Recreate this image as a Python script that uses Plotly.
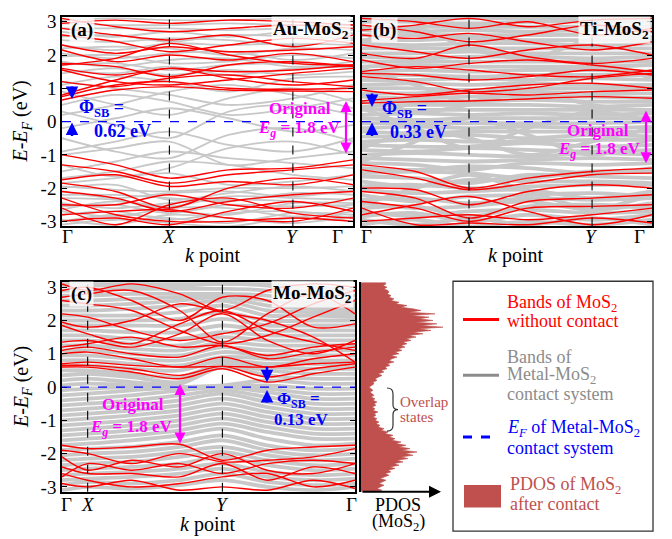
import plotly.graph_objects as go

W, H = 672, 539
SERIF = "Liberation Serif"

# ---------------- k-path ----------------
K_AB = [0, 0.5, 1.0, 1.55, 2.15, 2.71]
HS_AB = [0, 1.0, 2.15, 2.71]
K_C = [0, 0.24, 0.65, 1.1, 1.5, 1.92, 2.35, 2.74]
HS_C = [0, 0.24, 1.5, 2.74]
HS_LABELS = ["Γ", "<i>X</i>", "<i>Y</i>", "Γ"]
E_TICKS = [-3, -2, -1, 0, 1, 2, 3]
E_TICKTEXT = ["-3", "-2", "-1", "0", "1", "2", "3"]

# ---------------- panel (a) Au-MoS2 ----------------
RED_A = [
    [0.65, 0.95, 1.05, 0.95, 0.92, 0.9],
    [0.75, 1.1, 1.2, 1.0, 0.97, 1.0],
    [1.2, 1.05, 1.3, 1.4, 1.2, 1.05],
    [1.55, 1.2, 1.1, 1.25, 1.45, 1.6],
    [1.6, 1.4, 1.6, 1.5, 1.55, 1.7],
    [1.75, 1.65, 1.35, 1.7, 1.8, 1.65],
    [2.15, 1.8, 2.0, 1.85, 2.05, 1.8],
    [2.3, 2.05, 2.25, 2.1, 2.15, 2.25],
    [2.6, 2.4, 2.1, 2.3, 2.5, 2.35],
    [2.8, 2.6, 2.45, 2.6, 2.25, 2.6],
    [3.1, 2.85, 2.7, 2.8, 2.9, 2.8],
    [1.7, 1.9, 2.35, 2.0, 1.75, 1.7],
    [0.8, 1.25, 1.6, 1.3, 1.1, 1.25],
    [2.95, 3.05, 2.95, 3.05, 3.0, 2.9],
    [-1.0, -1.3, -1.7, -1.45, -1.4, -1.15],
    [-1.3, -1.5, -1.85, -1.6, -1.45, -1.3],
    [-1.75, -1.6, -1.95, -1.8, -1.9, -1.6],
    [-1.85, -2.1, -2.6, -2.0, -1.7, -1.9],
    [-2.1, -2.3, -2.7, -2.4, -2.2, -2.1],
    [-2.5, -2.5, -2.2, -2.5, -2.6, -2.3],
    [-2.8, -2.7, -2.65, -2.9, -3.0, -2.6],
    [-3.0, -2.9, -3.1, -2.7, -2.4, -2.7],
    [-2.3, -2.8, -3.0, -3.0, -2.9, -3.0],
    [-2.6, -3.1, -2.5, -2.3, -2.75, -2.9],
]
GREY_A = [
    [-3.1, -2.95, -3.05, -3.15, -2.9, -3.0],
    [-2.95, -3.1, -2.8, -2.9, -3.05, -2.85],
    [-2.8, -2.7, -2.95, -2.75, -2.7, -2.9],
    [-2.7, -2.85, -2.6, -2.6, -2.85, -2.7],
    [-2.55, -2.5, -2.75, -2.5, -2.55, -2.5],
    [-2.45, -2.6, -2.45, -2.35, -2.4, -2.6],
    [-2.3, -2.35, -2.55, -2.25, -2.3, -2.35],
    [-2.2, -2.2, -2.3, -2.4, -2.15, -2.2],
    [-2.1, -2.3, -2.15, -2.1, -2.25, -2.05],
    [-1.95, -2.05, -2.1, -2.0, -2.0, -1.95],
    [-2.0, -1.9, -2.35, -2.15, -1.95, -2.1],
    [-3.0, -2.8, -2.9, -3.05, -2.75, -2.8],
    [-2.65, -2.4, -2.65, -2.8, -2.45, -2.45],
    [-1.7, -1.5, -1.2, -1.3, -1.6, -1.75],
    [-1.5, -1.2, -0.9, -1.1, -1.25, -1.4],
    [-1.3, -1.65, -1.4, -0.8, -0.6, -1.0],
    [-0.9, -0.6, -0.3, -0.7, -0.9, -0.5],
    [-0.5, -0.9, -1.1, -0.4, -0.2, -0.6],
    [-0.2, 0.1, 0.4, 0.1, -0.3, -0.1],
    [0.3, -0.1, -0.5, 0.3, 0.5, 0.2],
    [0.5, 0.8, 0.6, 0.2, 0.4, 0.7],
    [0.9, 0.5, 0.2, 0.7, 1.0, 0.6],
    [1.2, 1.0, 0.8, 0.5, 0.7, 1.1],
    [0.2, 0.5, 0.9, 1.1, 0.8, 0.4],
    [-1.0, -0.8, -0.6, -1.3, -1.1, -0.9],
    [1.1, 1.35, 1.2, 0.9, 1.3, 1.35],
    [-1.85, -1.7, -1.55, -1.9, -1.8, -1.6],
    [1.45, 1.6, 1.4, 1.55, 1.4, 1.5],
    [1.55, 1.45, 1.65, 1.4, 1.6, 1.65],
    [1.7, 1.75, 1.55, 1.7, 1.75, 1.6],
    [1.8, 1.65, 1.85, 1.9, 1.65, 1.8],
    [1.95, 2.0, 1.75, 1.8, 2.0, 1.9],
    [2.05, 1.9, 2.05, 2.1, 1.85, 2.05],
    [2.2, 2.25, 2.2, 2.0, 2.2, 2.15],
    [2.3, 2.15, 2.35, 2.3, 2.35, 2.3],
    [2.45, 2.4, 2.5, 2.45, 2.3, 2.45],
    [2.55, 2.6, 2.4, 2.6, 2.55, 2.5],
    [2.7, 2.55, 2.7, 2.55, 2.7, 2.65],
    [2.8, 2.8, 2.8, 2.75, 2.8, 2.75],
    [2.95, 2.9, 2.9, 2.95, 2.9, 2.9],
    [3.05, 3.1, 3.05, 3.05, 3.1, 3.05],
]

# ---------------- panel (b) Ti-MoS2 ----------------
RED_B = [
    [0.55, 0.6, 0.62, 0.68, 0.75, 0.7],
    [0.62, 0.75, 0.85, 0.8, 0.9, 0.95],
    [0.95, 0.8, 0.95, 1.1, 1.15, 1.0],
    [1.35, 1.2, 0.9, 1.0, 1.3, 1.45],
    [1.45, 1.4, 1.25, 1.35, 1.55, 1.4],
    [1.5, 1.65, 1.55, 1.4, 1.35, 1.55],
    [1.85, 1.6, 1.75, 1.85, 1.7, 1.5],
    [2.05, 1.9, 2.3, 1.95, 1.75, 1.9],
    [2.3, 2.1, 1.9, 2.15, 2.3, 2.0],
    [2.6, 2.5, 2.65, 2.4, 2.15, 2.4],
    [2.9, 2.7, 2.4, 2.6, 2.9, 2.7],
    [3.1, 3.0, 2.8, 3.0, 2.6, 2.8],
    [2.75, 2.9, 3.1, 2.85, 3.05, 3.1],
    [-1.3, -1.5, -2.0, -1.7, -1.5, -1.4],
    [-1.45, -1.7, -2.05, -1.85, -1.6, -1.55],
    [-2.0, -2.05, -2.5, -2.1, -1.9, -2.0],
    [-2.1, -2.3, -2.9, -2.4, -2.3, -2.2],
    [-2.4, -2.6, -3.0, -2.6, -2.55, -2.5],
    [-2.8, -2.5, -2.25, -2.7, -3.1, -2.8],
    [-3.0, -2.9, -2.8, -2.95, -2.8, -2.6],
    [-2.6, -3.1, -3.05, -3.1, -2.9, -3.05],
]
GREY_B = [
    [-3.1, -2.95, -3.15, -3.0, -3.1, -2.95],
    [-2.95, -3.1, -2.9, -3.1, -2.9, -3.1],
    [-2.85, -2.75, -3.0, -2.8, -2.95, -2.8],
    [-2.7, -2.85, -2.7, -2.65, -2.75, -2.7],
    [-2.6, -2.55, -2.85, -2.55, -2.5, -2.6],
    [-2.45, -2.6, -2.55, -2.4, -2.65, -2.45],
    [-2.35, -2.3, -2.45, -2.3, -2.35, -2.3],
    [-2.2, -2.4, -2.25, -2.2, -2.15, -2.25],
    [-2.05, -2.15, -2.1, -2.05, -2.3, -2.1],
    [-1.95, -1.9, -2.0, -1.95, -1.9, -1.9],
    [-1.8, -1.95, -1.75, -1.8, -1.8, -1.85],
    [-1.65, -1.7, -1.85, -1.6, -1.65, -1.7],
    [-1.55, -1.5, -1.55, -1.7, -1.5, -1.5],
    [-1.4, -1.45, -1.35, -1.4, -1.55, -1.4],
    [-1.25, -1.3, -1.45, -1.25, -1.3, -1.25],
    [-1.1, -1.15, -1.2, -1.15, -1.1, -1.15],
    [-1.0, -0.95, -1.0, -1.05, -0.95, -1.0],
    [-0.85, -0.9, -0.8, -0.85, -0.9, -0.85],
    [-0.7, -0.75, -0.75, -0.65, -0.75, -0.7],
    [-0.6, -0.55, -0.6, -0.6, -0.55, -0.55],
    [-0.45, -0.45, -0.4, -0.5, -0.4, -0.45],
    [-0.3, -0.35, -0.3, -0.3, -0.3, -0.3],
    [-0.2, -0.15, -0.2, -0.15, -0.2, -0.15],
    [-0.05, -0.05, -0.05, -0.05, -0.05, 0.0],
    [0.1, 0.05, 0.1, 0.1, 0.1, 0.1],
    [0.2, 0.25, 0.2, 0.25, 0.2, 0.25],
    [0.35, 0.35, 0.35, 0.35, 0.35, 0.35],
    [0.45, 0.5, 0.5, 0.5, 0.45, 0.5],
    [0.6, 0.6, 0.6, 0.65, 0.6, 0.6],
    [0.75, 0.7, 0.75, 0.75, 0.75, 0.7],
    [0.85, 0.85, 0.9, 0.9, 0.85, 0.85],
    [1.0, 1.0, 0.95, 1.0, 1.0, 1.0],
    [1.1, 1.15, 1.1, 1.15, 1.1, 1.1],
    [1.25, 1.25, 1.3, 1.25, 1.3, 1.25],
    [1.4, 1.4, 1.35, 1.4, 1.4, 1.4],
    [1.5, 1.55, 1.5, 1.55, 1.55, 1.5],
    [1.65, 1.7, 1.65, 1.65, 1.65, 1.7],
    [1.8, 1.8, 1.8, 1.8, 1.8, 1.8],
    [1.95, 1.9, 1.95, 1.95, 1.9, 1.95],
    [2.05, 2.05, 2.1, 2.05, 2.05, 2.05],
    [2.2, 2.2, 2.2, 2.2, 2.2, 2.2],
    [2.35, 2.3, 2.35, 2.35, 2.3, 2.35],
    [2.45, 2.45, 2.5, 2.45, 2.45, 2.45],
    [2.6, 2.6, 2.6, 2.6, 2.6, 2.55],
    [2.75, 2.7, 2.75, 2.7, 2.75, 2.7],
    [2.85, 2.85, 2.85, 2.85, 2.85, 2.85],
    [3.0, 3.0, 2.95, 3.0, 3.0, 3.0],
    [3.1, 3.1, 3.1, 3.1, 3.1, 3.1],
    [-1.2, -0.6, 0.1, -0.4, -1.0, -0.5],
    [0.4, -0.2, -0.8, -0.2, 0.3, 0.0],
    [1.6, 1.1, 0.6, 1.2, 1.7, 1.3],
    [2.4, 2.8, 2.2, 1.9, 2.5, 2.9],
    [-2.5, -2.0, -1.6, -2.1, -2.6, -2.2],
    [-0.8, -0.3, -0.5, -1.0, -0.6, -0.2],
    [0.8, 0.3, 0.5, 0.9, 0.5, 0.3],
]

# ---------------- panel (c) Mo-MoS2 ----------------
RED_C = [
    [0.6, 0.6, 0.45, 0.25, 0.55, 0.15, 0.4, 0.6],
    [0.65, 0.65, 0.55, 0.35, 0.62, 0.3, 0.55, 0.7],
    [0.7, 0.75, 0.65, 0.6, 0.62, 0.6, 0.7, 0.75],
    [1.0, 1.05, 0.85, 0.6, 0.9, 0.6, 0.85, 1.0],
    [1.1, 1.2, 1.0, 0.9, 1.25, 0.85, 1.05, 1.2],
    [1.2, 1.3, 1.5, 1.2, 1.25, 0.95, 1.2, 1.3],
    [1.35, 1.4, 1.2, 1.6, 2.2, 1.4, 1.0, 1.4],
    [1.85, 1.6, 1.3, 1.9, 2.3, 1.7, 1.35, 1.1],
    [1.95, 1.8, 2.0, 2.5, 2.25, 2.0, 1.5, 0.75],
    [2.6, 2.5, 2.3, 1.7, 1.3, 1.55, 2.1, 2.6],
    [2.7, 2.8, 2.9, 2.3, 1.35, 2.2, 2.8, 2.2],
    [2.9, 3.0, 2.6, 2.0, 2.7, 2.6, 1.8, 1.9],
    [2.2, 2.1, 1.7, 1.4, 1.6, 1.9, 2.5, 2.9],
    [3.1, 2.9, 3.1, 2.8, 2.3, 2.9, 3.1, 3.0],
    [-1.75, -1.85, -1.8, -1.72, -2.2, -1.9, -1.8, -1.75],
    [-1.9, -2.0, -2.3, -2.0, -2.25, -2.2, -2.1, -1.85],
    [-2.1, -2.5, -2.2, -2.4, -2.0, -2.5, -2.6, -2.3],
    [-2.4, -2.6, -2.6, -2.7, -2.3, -2.8, -2.4, -2.6],
    [-2.6, -2.8, -3.0, -2.9, -2.7, -2.6, -3.0, -2.8],
    [-2.9, -3.0, -2.8, -3.1, -3.0, -3.1, -2.8, -3.05],
    [-2.7, -2.3, -2.5, -2.3, -2.6, -2.3, -2.2, -2.3],
]
GREY_C = [
    [-3.1, -3.0, -3.05, -2.95, -2.8, -3.0, -3.1, -3.0],
    [-2.95, -2.85, -2.9, -2.8, -2.6, -2.85, -2.95, -2.9],
    [-2.8, -2.75, -2.7, -2.6, -2.45, -2.7, -2.8, -2.75],
    [-2.65, -2.6, -2.55, -2.45, -2.3, -2.55, -2.65, -2.6],
    [-2.5, -2.45, -2.4, -2.3, -2.1, -2.35, -2.5, -2.45],
    [-2.35, -2.3, -2.25, -2.1, -1.95, -2.2, -2.35, -2.3],
    [-2.2, -2.15, -2.1, -1.95, -1.8, -2.05, -2.2, -2.15],
    [-2.05, -2.0, -1.95, -1.8, -1.6, -1.9, -2.05, -2.0],
    [-1.9, -1.85, -1.8, -1.65, -1.45, -1.75, -1.9, -1.85],
    [-1.75, -1.7, -1.6, -1.45, -1.25, -1.55, -1.75, -1.7],
    [-1.6, -1.55, -1.45, -1.3, -1.1, -1.35, -1.55, -1.55],
    [-1.45, -1.4, -1.3, -1.15, -0.95, -1.2, -1.4, -1.4],
    [-1.3, -1.25, -1.15, -1.0, -0.8, -1.05, -1.25, -1.25],
    [-1.15, -1.1, -1.0, -0.85, -0.65, -0.9, -1.1, -1.1],
    [-1.0, -0.95, -0.85, -0.7, -0.5, -0.75, -0.95, -0.95],
    [-0.85, -0.8, -0.7, -0.55, -0.35, -0.6, -0.8, -0.8],
    [-0.7, -0.65, -0.55, -0.4, -0.2, -0.45, -0.65, -0.65],
    [-0.55, -0.5, -0.4, -0.25, -0.1, -0.3, -0.5, -0.5],
    [-0.4, -0.35, -0.25, -0.1, 0.0, -0.15, -0.35, -0.35],
    [-0.25, -0.2, -0.1, 0.0, 0.02, -0.05, -0.2, -0.2],
    [-0.1, -0.05, 0.0, -0.05, 0.0, 0.05, -0.05, -0.05],
    [0.05, 0.1, 0.05, 0.0, 0.05, 0.2, 0.1, 0.1],
    [0.2, 0.25, 0.15, 0.1, 0.6, 0.35, 0.25, 0.25],
    [0.35, 0.4, 0.3, 0.15, 0.65, 0.5, 0.4, 0.4],
    [0.5, 0.5, 0.4, 0.3, 0.7, 0.6, 0.55, 0.55],
    [0.65, 0.65, 0.55, 0.5, 0.8, 0.7, 0.7, 0.65],
    [0.8, 0.8, 0.7, 0.65, 0.9, 0.85, 0.8, 0.8],
    [0.95, 0.95, 0.85, 0.8, 1.05, 0.95, 0.95, 0.95],
    [1.1, 1.1, 1.0, 0.95, 1.2, 1.1, 1.1, 1.1],
    [1.25, 1.25, 1.15, 1.1, 1.35, 1.25, 1.25, 1.25],
    [1.4, 1.4, 1.3, 1.25, 1.5, 1.4, 1.4, 1.4],
    [1.55, 1.55, 1.45, 1.45, 1.65, 1.55, 1.55, 1.55],
    [1.7, 1.7, 1.65, 1.65, 1.85, 1.7, 1.7, 1.7],
    [1.85, 1.85, 1.85, 1.85, 2.05, 1.85, 1.85, 1.85],
    [2.0, 2.0, 2.0, 2.05, 2.25, 2.0, 2.0, 2.0],
    [2.15, 2.15, 2.15, 2.25, 2.45, 2.15, 2.15, 2.1],
    [2.3, 2.3, 2.35, 2.45, 2.6, 2.3, 2.25, 2.2],
    [2.45, 2.45, 2.5, 2.6, 2.7, 2.45, 2.35, 2.3],
    [2.6, 2.6, 2.65, 2.7, 2.75, 2.6, 2.45, 2.4],
    [2.75, 2.75, 2.8, 2.8, 2.8, 2.75, 2.55, 2.5],
    [2.9, 2.9, 2.95, 2.95, 2.95, 2.9, 2.7, 2.6],
    [3.05, 3.05, 3.05, 3.05, 3.1, 3.05, 2.85, 2.75],
    [3.1, 3.1, 3.1, 3.1, 3.1, 3.1, 3.0, 2.9],
]

# ---------------- PDOS of MoS2 (Mo-MoS2) ----------------
PDOS_E = [
    -3.15, -3.10, -3.05, -3.00, -2.95, -2.90, -2.85, -2.80, -2.75, -2.70, -2.65,
    -2.60, -2.55, -2.50, -2.45, -2.40, -2.35, -2.30, -2.25, -2.20, -2.15, -2.10,
    -2.05, -2.00, -1.95, -1.90, -1.85, -1.80, -1.75, -1.70, -1.65, -1.60, -1.55,
    -1.50, -1.45, -1.40, -1.35, -1.30, -1.25, -1.20, -1.15, -1.10, -1.05, -1.00,
    -0.95, -0.90, -0.85, -0.80, -0.75, -0.70, -0.65, -0.60, -0.55, -0.50, -0.45,
    -0.40, -0.35, -0.30, -0.25, -0.20, -0.15, -0.10, -0.05, 0.00, 0.05, 0.10,
    0.15, 0.20, 0.25, 0.30, 0.35, 0.40, 0.45, 0.50, 0.55, 0.60, 0.65,
    0.70, 0.75, 0.80, 0.85, 0.90, 0.95, 1.00, 1.05, 1.10, 1.15, 1.20,
    1.25, 1.30, 1.35, 1.40, 1.45, 1.50, 1.55, 1.60, 1.65, 1.70, 1.75,
    1.80, 1.85, 1.90, 1.95, 2.00, 2.05, 2.10, 2.15, 2.20, 2.25, 2.30,
    2.35, 2.40, 2.45, 2.50, 2.55, 2.60, 2.65, 2.70, 2.75, 2.80, 2.85,
    2.90, 2.95, 3.00, 3.05, 3.10, 3.15,
]
PDOS_V = [
    17, 21, 16, 19, 23, 18, 21, 25, 19, 24, 28,
    24, 30, 27, 34, 29, 38, 33, 42, 36, 47, 40,
    52, 44, 56, 41, 49, 38, 45, 35, 40, 31, 34,
    28, 32, 24, 27, 20, 23, 17, 19, 15, 18, 14,
    16, 12, 15, 13, 17, 12, 14, 11, 15, 13, 16,
    12, 14, 10, 13, 11, 9, 12, 10, 8, 11, 13,
    12, 16, 14, 18, 21, 17, 23, 20, 26, 24, 29,
    26, 33, 28, 31, 36, 30, 38, 34, 41, 37, 44,
    40, 46, 42, 50, 45, 55, 48, 62, 52, 70, 58,
    82, 60, 76, 55, 72, 58, 68, 50, 74, 48, 60,
    52, 40, 46, 35, 38, 30, 33, 28, 30, 26, 28,
    27, 23, 26, 22, 25, 24,
]

# ---------------- styling ----------------
RED = "#ff0000"
GREY = "#c8c8c8"
BLUE = "#0000ff"
MAGENTA = "#ff00ff"
BROWN = "#c0504d"
LEG_GREY = "#8c8c8c"
E_RANGE = [-3.15, 3.15]


def px(x):
    return x / W


def py(y):
    return 1 - y / H


fig = go.Figure()


def add_bands(bands, kx, xa, ya, color, width):
    for b in bands:
        fig.add_trace(go.Scatter(
            x=kx, y=b, mode="lines", xaxis=xa, yaxis=ya,
            line=dict(color=color, width=width, shape="spline", smoothing=0.9),
            showlegend=False, hoverinfo="skip"))


add_bands(GREY_A, K_AB, "x", "y", GREY, 1.8)
add_bands(RED_A, K_AB, "x", "y", RED, 1.4)
add_bands(GREY_B, K_AB, "x2", "y2", GREY, 3.8)
add_bands(RED_B, K_AB, "x2", "y2", RED, 1.4)
add_bands(GREY_C, K_C, "x3", "y3", GREY, 3.8)
add_bands(RED_C, K_C, "x3", "y3", RED, 1.4)

fig.add_trace(go.Scatter(
    x=PDOS_V, y=PDOS_E, mode="lines", fill="tozerox", fillcolor=BROWN,
    line=dict(color=BROWN, width=0.6), xaxis="x4", yaxis="y4",
    showlegend=False, hoverinfo="skip"))


def band_xaxis(dom, hs, anchor):
    return dict(domain=dom, range=[hs[0], hs[-1]], tickvals=hs,
                showticklabels=False, showline=True, mirror=True,
                linecolor="black", linewidth=1.5, ticks="", showgrid=False,
                zeroline=False, anchor=anchor)


def band_yaxis(dom, anchor, labels=True):
    return dict(domain=dom, range=E_RANGE, tickvals=E_TICKS, ticktext=E_TICKTEXT,
                showticklabels=labels, ticks="inside", ticklen=5, tickwidth=1,
                tickcolor="black", showline=True, mirror="ticks", linecolor="black",
                linewidth=1.5, showgrid=False, zeroline=False, anchor=anchor,
                tickfont=dict(family=SERIF, size=19, color="black"))


dom_y_top = [py(226), py(12)]
dom_y_bot = [py(497), py(283)]

fig.update_layout(
    width=W, height=H, margin=dict(l=0, r=0, t=0, b=0),
    paper_bgcolor="white", plot_bgcolor="white",
    font=dict(family=SERIF, color="black"),
    showlegend=False,
    xaxis=band_xaxis([px(62), px(353)], HS_AB, "y"),
    yaxis=band_yaxis(dom_y_top, "x"),
    xaxis2=band_xaxis([px(362), px(652)], HS_AB, "y2"),
    yaxis2=band_yaxis(dom_y_top, "x2", labels=False),
    xaxis3=band_xaxis([px(62), px(355)], HS_C, "y3"),
    yaxis3=band_yaxis(dom_y_bot, "x3"),
    xaxis4=dict(domain=[px(361), px(452)], range=[0, 91], visible=False, anchor="y4"),
    yaxis4=dict(domain=dom_y_bot, range=E_RANGE, showline=True, linecolor="black",
                linewidth=2, ticks="", showticklabels=False, showgrid=False,
                zeroline=False, anchor="x4"),
)

shapes = []
# high-symmetry dashed lines and Fermi level
for xa, ya, hs in (("x", "y", HS_AB), ("x2", "y2", HS_AB), ("x3", "y3", HS_C)):
    for k in hs[1:-1]:
        shapes.append(dict(type="line", xref=xa, yref=ya + " domain", x0=k, x1=k, y0=0, y1=1,
                           line=dict(color="black", width=1.1, dash="dash"), layer="above"))
    shapes.append(dict(type="line", xref=xa + " domain", yref=ya, x0=0, x1=1, y0=0, y1=0,
                       line=dict(color=BLUE, width=1.2, dash="dash"), layer="above"))

# legend box
shapes.append(dict(type="rect", xref="paper", yref="paper", x0=px(453), x1=px(653),
                   y0=py(537), y1=py(282), line=dict(color="#333333", width=1.3)))
shapes.append(dict(type="line", xref="paper", yref="paper", x0=px(463), x1=px(499),
                   y0=py(321), y1=py(321), line=dict(color=RED, width=3)))
shapes.append(dict(type="line", xref="paper", yref="paper", x0=px(463), x1=px(499),
                   y0=py(378), y1=py(378), line=dict(color=LEG_GREY, width=3)))
shapes.append(dict(type="line", xref="paper", yref="paper", x0=px(463), x1=px(499),
                   y0=py(441), y1=py(441), line=dict(color=BLUE, width=3, dash="dash")))
shapes.append(dict(type="rect", xref="paper", yref="paper", x0=px(464), x1=px(501),
                   y0=py(513), y1=py(490), line=dict(width=0), fillcolor=BROWN))


# brace for "Overlap states"
def P(x, y):
    return f"{px(x):.5f},{py(y):.5f}"


brace = (f"M {P(387,391)} Q {P(393,391)} {P(393,397)} L {P(393,408)} "
         f"Q {P(393,413)} {P(398,413)} Q {P(393,413)} {P(393,418)} "
         f"L {P(393,429)} Q {P(393,435)} {P(387,435)}")
shapes.append(dict(type="path", xref="paper", yref="paper", path=brace,
                   line=dict(color="#333333", width=1.2)))
fig.update_layout(shapes=shapes)

ann = []


def text(t, x, y, size=18, color="black", xanchor="center", bg=None, angle=0):
    d = dict(text=t, x=px(x), y=py(y), xref="paper", yref="paper", showarrow=False,
             xanchor=xanchor, yanchor="middle", textangle=angle,
             font=dict(family=SERIF, size=size, color=color))
    if bg:
        d.update(bgcolor=bg, borderpad=1)
    ann.append(d)


def arrow(x0, y0, x1, y1, color, width=2.5, size=1.0, double=False):
    # head at (x1, y1), tail offset given in pixels
    ann.append(dict(text="", x=px(x1), y=py(y1), ax=x0 - x1, ay=y0 - y1,
                    xref="paper", yref="paper", axref="pixel", ayref="pixel",
                    showarrow=True, arrowhead=2, arrowsize=size, arrowwidth=width,
                    arrowcolor=color, arrowside="end+start" if double else "end",
                    standoff=0, startstandoff=0))


# high-symmetry point labels (Γ labels sit just inside the frame, as in the original)
for xs, ylab in (([67, 169, 292, 337], 236), ([367, 469, 591, 639], 236),
                 ([66, 88, 222, 351], 510)):
    for xpos, lab in zip(xs, HS_LABELS):
        text(lab, xpos, ylab, 19)

BG = "rgba(255,255,255,0.8)"
# panel (a)
text("<b>(a)</b>", 82, 26, 19, bg=BG)
text("<b>Au-MoS<sub>2</sub></b>", 351, 26, 19, xanchor="right", bg=BG)
arrow(72, 82, 72, 96, BLUE)
arrow(72, 135, 72, 120, BLUE)
text("<b>Φ<sub>SB</sub> =</b>", 77, 106, 18, BLUE, xanchor="left")
text("<b>0.62 eV</b>", 92, 129, 18, BLUE, xanchor="left")
arrow(346, 152, 346, 98, MAGENTA, width=2.2, double=True)
text("<b>Original</b>", 300, 106, 17, MAGENTA)
text("<b><i>E</i><sub><i>g</i></sub> = 1.8 eV</b>", 299, 127, 17, MAGENTA)

# panel (b)
text("<b>(b)</b>", 384, 26, 19, bg=BG)
text("<b>Ti-MoS<sub>2</sub></b>", 651, 26, 19, xanchor="right", bg=BG)
arrow(372, 89, 372, 104, BLUE)
arrow(372, 135, 372, 120, BLUE)
text("<b>Φ<sub>SB</sub> =</b>", 380, 107, 18, BLUE, xanchor="left")
text("<b>0.33 eV</b>", 388, 130, 18, BLUE, xanchor="left")
arrow(646, 162, 646, 108, MAGENTA, width=2.2, double=True)
text("<b>Original</b>", 598, 128, 17, MAGENTA)
text("<b><i>E</i><sub><i>g</i></sub> = 1.8 eV</b>", 599, 148, 17, MAGENTA)

# panel (c)
text("<b>(c)</b>", 81, 295, 19, bg=BG)
text("<b>Mo-MoS<sub>2</sub></b>", 354, 295, 19, xanchor="right", bg=BG)
arrow(267, 368, 267, 385, BLUE)
arrow(267, 407, 267, 393, BLUE)
text("<b>Φ<sub>SB</sub> =</b>", 275, 403, 17, BLUE, xanchor="left")
text("<b>0.13 eV</b>", 272, 423, 17, BLUE, xanchor="left")
arrow(180, 448, 180, 387, MAGENTA, width=2.2, double=True)
text("<b>Original</b>", 133, 408, 17, MAGENTA)
text("<b><i>E</i><sub><i>g</i></sub> = 1.8 eV</b>", 131, 432, 17, MAGENTA)

# axis titles
YT = "<i>E</i>-<i>E</i><sub><i>F</i></sub> (eV)"
text(YT, 22, 119, 20, angle=-90)
text(YT, 22, 390, 20, angle=-90)
text("<i>k</i> point", 212, 256, 20)
text("<i>k</i> point", 515, 256, 20)
text("<i>k</i> point", 207, 530, 20)

# PDOS panel
arrow(361, 497, 441, 497, "black", width=2, size=1.2)
text("PDOS", 398, 510, 18)
text("(MoS<sub>2</sub>)", 398, 528, 18)
text("Overlap", 398, 405, 15, BROWN, xanchor="left")
text("states", 398, 421, 15, BROWN, xanchor="left")

# legend texts
LX = 505
text("Bands of MoS<sub>2</sub>", LX, 305, 18, RED, xanchor="left")
text("without contact", LX, 323, 18, RED, xanchor="left")
text("Bands of", LX, 359, 18, LEG_GREY, xanchor="left")
text("Metal-MoS<sub>2</sub>", LX, 378, 18, LEG_GREY, xanchor="left")
text("contact system", LX, 397, 18, LEG_GREY, xanchor="left")
text("<i>E</i><sub><i>F</i></sub> of Metal-MoS<sub>2</sub>", LX, 432, 18, BLUE, xanchor="left")
text("contact system", LX, 452, 18, BLUE, xanchor="left")
text("PDOS of MoS<sub>2</sub>", 508, 490, 18, BROWN, xanchor="left")
text("after contact", 508, 509, 18, BROWN, xanchor="left")

fig.update_layout(annotations=ann)
fig.write_html("out.html")
